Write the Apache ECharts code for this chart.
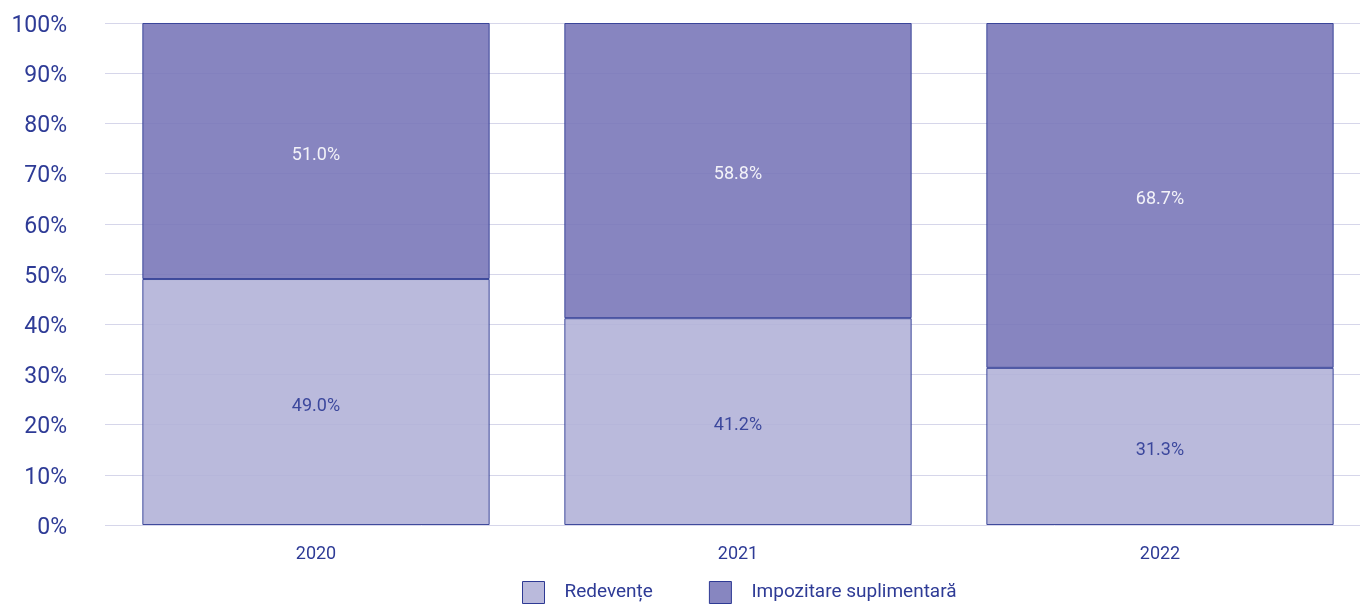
<!DOCTYPE html>
<html><head><meta charset="utf-8">
<script src="https://cdn.jsdelivr.net/npm/echarts@6/dist/echarts.min.js"></script>
<style>html,body{margin:0;padding:0;background:#fff;overflow:hidden}#c{width:1371px;height:605px}</style>
</head><body><div id="c"></div>
<script>
const categories = ['2020', '2021', '2022'];
const redevente = [49.0, 41.2, 31.3];
const impozitare = [51.0, 58.8, 68.7];
const yTicks = [0, 10, 20, 30, 40, 50, 60, 70, 80, 90, 100];

const txt = '#2e3b96';
const chart = echarts.init(document.getElementById('c'));
chart.setOption({
  animation: false,
  textStyle: { fontFamily: 'Roboto' },
  grid: { left: 105, right: 0, top: 23, bottom: 80, containLabel: false },
  legend: {
    left: 517, top: 576, itemWidth: 22, itemHeight: 22, itemGap: 56, icon: 'rect',
    textStyle: { color: txt, fontSize: 19, fontFamily: 'Roboto', padding: [2, 0, 0, 15] },
    data: [
      { name: 'Redevențe', itemStyle: { color: '#babadc', borderColor: '#2e3a94', borderWidth: 1, opacity: 1 } },
      { name: 'Impozitare suplimentară', itemStyle: { color: '#8786c0', borderColor: '#2e3a94', borderWidth: 1, opacity: 1 } }
    ]
  },
  xAxis: {
    type: 'category', data: categories,
    axisLine: { show: false }, axisTick: { show: false },
    axisLabel: { color: txt, fontSize: 18, margin: 20 }
  },
  yAxis: {
    type: 'value', min: 0, max: 100, interval: 10,
    axisLabel: {
      color: txt, fontSize: 23, margin: 38,
      formatter: v => yTicks.includes(v) ? '{a|' + v + '%}' : '',
      rich: { a: { color: txt, fontSize: 23, fontFamily: 'Roboto', padding: [6, 0, 0, 0] } }
    },
    splitLine: { lineStyle: { color: '#d6d6ea', width: 1 } },
    axisLine: { show: false }, axisTick: { show: false }
  },
  series: [
    {
      name: 'Redevențe', type: 'bar', stack: 'a', data: redevente, barWidth: '82.3%',
      itemStyle: { color: '#b2b2d8', opacity: 0.9, borderColor: '#2e3a94', borderWidth: 1 },
      label: { show: true, position: 'inside', offset: [0, 4], color: txt, fontSize: 18, formatter: p => p.value.toFixed(1) + '%' }
    },
    {
      name: 'Impozitare suplimentară', type: 'bar', stack: 'a', data: impozitare, barWidth: '82.3%',
      itemStyle: { color: '#7a78b9', opacity: 0.9, borderColor: '#2e3a94', borderWidth: 1 },
      label: { show: true, position: 'inside', offset: [0, 4], color: '#ffffff', fontSize: 18, formatter: p => p.value.toFixed(1) + '%' }
    }
  ]
});
</script></body></html>
